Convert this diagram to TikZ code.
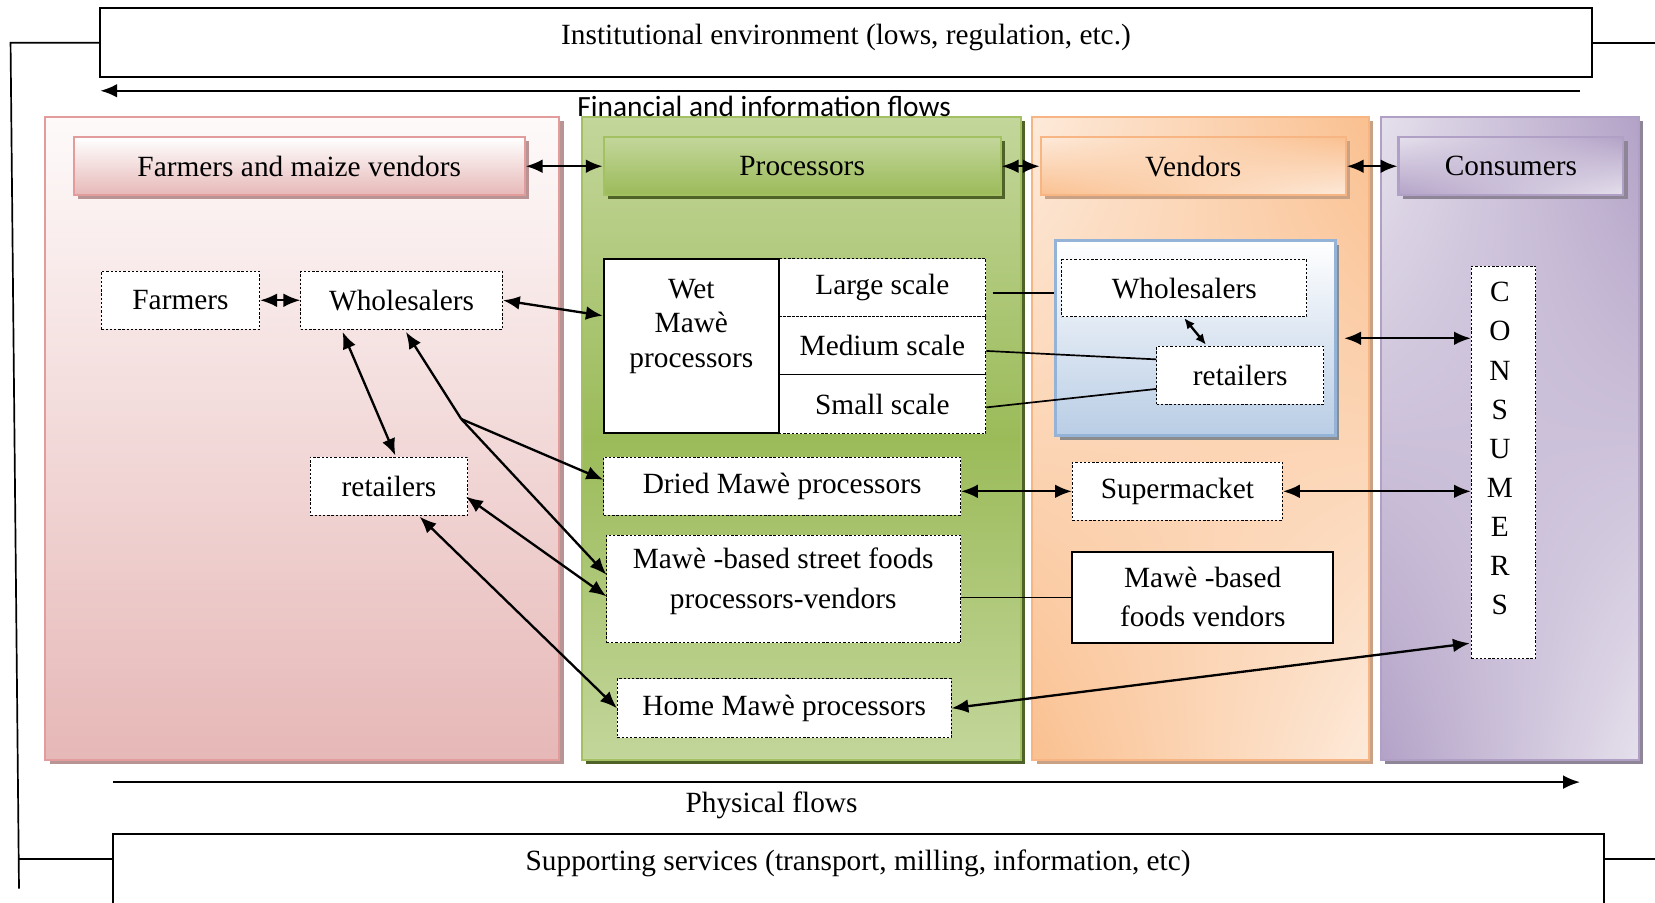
\documentclass[tikz,border=0pt]{standalone}
\usepackage{fontspec}
\setmainfont{Liberation Serif}
\newfontfamily\flowfont{Carlito}
\usetikzlibrary{arrows.meta,fit,calc,shadings,shadows}

\definecolor{pinkTop}{HTML}{FEFAFA}
\definecolor{pinkB}{HTML}{E6B8B7}
\definecolor{pinkBorder}{HTML}{E29C9B}
\definecolor{pinkShadow}{HTML}{B89494}
\definecolor{gLight}{HTML}{C3D69B}
\definecolor{gMid}{HTML}{9BBB59}
\definecolor{gBorder}{HTML}{A3C163}
\definecolor{gShadow}{HTML}{4F6228}
\definecolor{oDark}{HTML}{FAC090}
\definecolor{oLight}{HTML}{FDEADA}
\definecolor{oBorder}{HTML}{F7B583}
\definecolor{oShadow}{HTML}{C9A285}
\definecolor{pDark}{HTML}{B3A2C7}
\definecolor{pLight}{HTML}{E5E0EC}
\definecolor{pBorder}{HTML}{B1A0C6}
\definecolor{pShadow}{HTML}{8E8597}
\definecolor{bBot}{HTML}{B9CDE5}
\definecolor{bBorder}{HTML}{95B3D7}
\definecolor{bShadow}{HTML}{8C8C8C}

\begin{document}
\begin{tikzpicture}[x=0.5pt,y=-0.5pt,
  every node/.style={font=\fontsize{13.9}{16.5}\selectfont},
  box/.style={fill=white, inner sep=0pt},
  dotbox/.style={box, draw, line width=0.45pt, dash pattern=on 1.1pt off 0.9pt},
  solidbox/.style={box, draw, line width=0.9pt},
  group/.style={inner sep=0pt, line width=1pt},
  header/.style={inner sep=0pt, line width=1pt},
  txt/.style={label={[align=center]center:{#1}}},
  shadowed/.style={drop shadow={shadow xshift=2pt, shadow yshift=-2pt, fill=#1, opacity=1}},
  tip/.tip={Latex[length=8pt,width=6.5pt]},
  smalltip/.tip={Latex[length=5pt,width=4.5pt]},
  flow/.style={line width=1.1pt, -tip},
  biflow/.style={line width=1.1pt, tip-tip},
  plain/.style={line width=0.8pt},
]
\useasboundingbox (0,0) rectangle (1568,855);

% ---------- column panels ----------
\node[fit={(43,111)(530,720)}, group, draw=pinkBorder, top color=pinkTop, bottom color=pinkB, shadowed=pinkShadow] (gfarm) {};
\node[fit={(551,111)(967,720)}, group, draw=gBorder, top color=gLight, bottom color=gLight, middle color=gMid, shadowed=gShadow] (gproc) {};
\node[fit={(978,111)(1297,720)}, group, draw=oBorder, upper left=oLight, upper right=oDark, lower left=oDark, lower right=oLight, shadowed=oShadow] (gvend) {};
\node[fit={(1308,111)(1553,720)}, group, draw=pBorder, upper left=pLight, upper right=pDark, lower left=pDark, lower right=pLight, shadowed=pShadow] (gcons) {};

% ---------- column headers ----------
\node[fit={(70,130)(497,185)}, header, draw=pinkBorder, top color=white, bottom color=pinkB, shadowed=pinkShadow, txt={Farmers and maize vendors}] (hfarm) {};
\node[fit={(572,130)(948,185)}, header, draw=gBorder, top color=gLight, bottom color=gMid, shadowed=gShadow, txt=Processors] (hproc) {};
\node[fit={(986,130)(1275,185)}, header, draw=oBorder, upper left=oLight, upper right=oDark, lower left=oDark, lower right=oLight, shadowed=oShadow, txt=Vendors] (hvend) {};
\node[fit={(1325,130)(1538,185)}, header, draw=pBorder, upper left=pLight, upper right=pDark, lower left=pDark, lower right=pLight, shadowed=pShadow, txt=Consumers] (hcons) {};

\draw[biflow] (hfarm.east) -- (hproc.west);
\draw[biflow] (hproc.east) -- (hvend.west);
\draw[biflow] (hvend.east) -- (hcons.west);

% ---------- farmers column ----------
\node[fit={(96,257)(246,312)}, dotbox, txt=Farmers] (fa) {};
\node[fit={(285,257)(476,312)}, dotbox, txt=Wholesalers] (wsl) {};
\node[fit={(294,433)(443,488)}, dotbox, txt=retailers] (ret) {};

% ---------- processors column ----------
\node[fit={(738,245)(934,300)}, dotbox, txt={Large scale}] (large) {};
\node[fit={(738,300)(934,355)}, dotbox, txt={Medium scale}] (medium) {};
\node[fit={(738,355)(934,411)}, dotbox, txt={Small scale}] (small) {};
\node[fit={(572,245)(738,410)}, solidbox] (wet) {};
\node[align=center, anchor=north, font=\fontsize{13.9}{16.5}\selectfont] (wettext) at ($(wet.north)+(0,13)$) {Wet\\Mawè\\processors};
\node[fit={(572,433)(910,488)}, dotbox, txt={Dried Mawè processors}] (dried) {};
\node[fit={(575,507)(910,609)}, dotbox] (street) {};
\node[align=center, font=\fontsize{13.9}{19}\selectfont] (streettext) at (742,551) {Mawè -based street foods\\processors-vendors};
\node[fit={(585,643)(901,699)}, dotbox, txt={Home Mawè processors}] (home) {};

% ---------- vendors column ----------
\node[fit={(1000,228)(1265,413)}, group, line width=1.5pt, draw=bBorder, top color=white, bottom color=bBot, shadowed=bShadow] (vbox) {};
\node[fit={(1006,246)(1238,300)}, dotbox, txt=Wholesalers] (wsl2) {};
\node[fit={(1096,328)(1254,383)}, dotbox, txt=retailers] (ret2) {};
\node[fit={(1016,438)(1215,493)}, dotbox, txt=Supermacket] (sup) {};
\node[fit={(1016,523)(1263,609)}, solidbox] (fv) {};
\node[align=center, font=\fontsize{13.9}{18.5}\selectfont] (fvtext) at (fv.center) {Mawè -based\\foods vendors};

% ---------- consumers column ----------
\node[fit={(1394,252)(1455,624)}, dotbox] (cons) {};
\node[align=center, font=\fontsize{13.9}{18.5}\selectfont] (constext) at (1421,425) {C\\O\\N\\S\\U\\M\\E\\R\\S};

% ---------- links inside the chain ----------
\draw[biflow] (fa.east) -- (wsl.west);
\draw[biflow] (wsl.east) -- ($(wet.north west)+(0,55)$);
\draw[biflow] ($(wsl.south west)+(40,2)$) -- ($(ret.north west)+(81,-1)$);
\coordinate (kink) at (437,397);
\draw[flow] (kink) -- ($(wsl.south west)+(100,2)$);
\draw[flow] (kink) -- ($(dried.north west)+(0,22)$);
\draw[flow] (kink) -- ($(street.north west)+(0,38)$);
\draw[biflow] ($(ret.east)+(-2,10)$) -- ($(street.west)+(0,7)$);
\draw[biflow] ($(ret.south west)+(104,1)$) -- (home.west);

\coordinate (lsStart) at ($(large.east)+(6,5)$);
\draw[plain] (lsStart) -- (lsStart -| vbox.west);
\draw[plain] ($(medium.east)+(0,5)$) -- ($(ret2.west)+(0,-15)$);
\draw[plain] ($(small.east)+(0,3)$) -- ($(ret2.west)+(0,13)$);
\draw[line width=1.1pt, smalltip-smalltip] ($(wsl2.south)+(0,1)$) -- ($(ret2.north west)+(47,-1)$);

\draw[biflow] (sup.west -| dried.east) -- (sup.west);
\draw[plain] (fv.west -| street.east) -- (fv.west);

\coordinate (vbR) at ($(vbox.east)+(7,0)$);
\draw[biflow] (vbR) -- (vbR -| cons.west);
\draw[biflow] (sup.east) -- (sup.east -| cons.west);
\draw[biflow] ($(cons.south west)+(-1,-15)$) -- (home.east);

% ---------- environment and services ----------
\node[fit={(95,8)(1508,73)}, solidbox, label={[yshift=2.5pt]center:{Institutional environment (lows, regulation, etc.)}}] (inst) {};
\node[fit={(107,790)(1520,890)}, solidbox] (supp) {};
\node (supptext) at (813,818) {Supporting services (transport, milling, information, etc)};

\coordinate (bracketTop) at (10,0);
\coordinate (bracketBot) at (18,842);
\draw[plain] (inst.west) -- (inst.west -| bracketTop) -- (bracketBot);
\draw[plain] ($(supp.north west)+(0,25)$) -- ++(-89,0);
\draw[plain] (inst.east) -- ++(62,0);
\draw[plain] ($(supp.north east)+(0,25)$) -- ++(50,0);

% ---------- flow arrows ----------
\coordinate (finR) at (1497,86);
\coordinate (finL) at (95,86);
\draw[flow] (finR) -- (finL);
\node[font=\fontsize{13.9}{16}\flowfont] (fintext) at (724,101) {Financial and information flows};

\coordinate (phL) at (107,741);
\coordinate (phR) at (1497,741);
\draw[flow] (phL) -- (phR);
\node (phtext) at (731,763) {Physical flows};
\end{tikzpicture}
\end{document}
